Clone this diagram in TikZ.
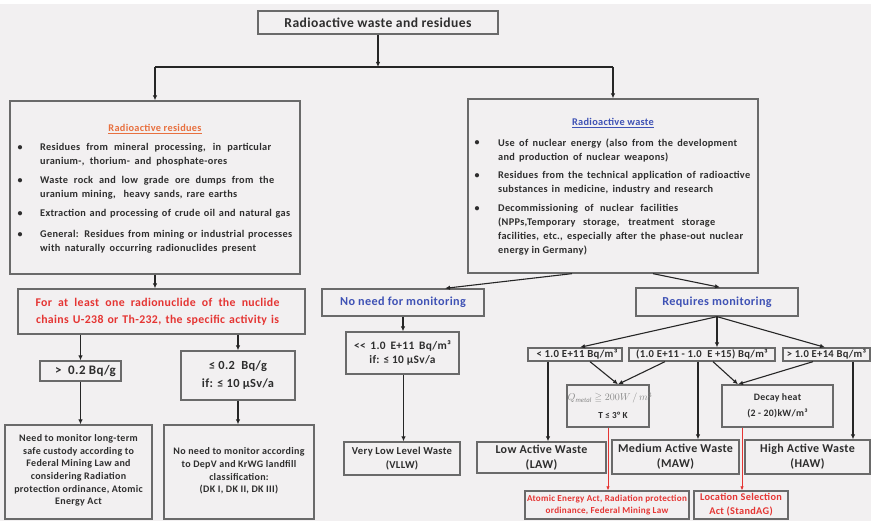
\documentclass[tikz,border=0pt]{standalone}
\usepackage{amssymb}
\usepackage{fontspec}
\setmainfont{Carlito}[LetterSpace=3]
\usetikzlibrary{arrows.meta}

\definecolor{bgcol}{HTML}{F2F0F1}
\definecolor{boxcol}{HTML}{6A6A6A}
\definecolor{linecol}{HTML}{262626}
\definecolor{txtcol}{HTML}{2E2E2E}
\definecolor{orangecol}{HTML}{E8703F}
\definecolor{bluecol}{HTML}{3F52B5}
\definecolor{redcol}{HTML}{E53533}
\definecolor{formulacol}{HTML}{8A8A8A}

\tikzset{
  box/.style={draw=boxcol, line width=1.3pt, fill=bgcol, inner sep=0pt},
  txt/.style={text=txtcol, inner sep=0pt, align=center},
  arr/.style={draw=linecol, line width=1.1pt, -{Latex[length=5pt,width=4.5pt]}},
  plain/.style={draw=linecol, line width=1.1pt},
  redarr/.style={draw=redcol, line width=0.9pt, -{Latex[length=4pt,width=3.5pt]}},
}

% rectangle node given by its corners: name, x1, y1, x2, y2
\newcommand{\rbox}[5]{%
  \node[box, minimum width={(#4)-(#2)}, minimum height={(#5)-(#3)}]
    (#1) at ({((#2)+(#4))/2},{((#3)+(#5))/2}) {};}
\newcommand{\fs}[2]{\fontsize{#1}{#2}\selectfont\bfseries}
% a line of text spread to a given width
\newcommand{\spreadline}[2]{\makebox[#1pt][s]{#2}}

\begin{document}
\begin{tikzpicture}[x=1pt,y=-1pt]
\useasboundingbox (0,0) rectangle (871,521);
\fill[white] (0,0) rectangle (871,521);
\fill[bgcol] (0,4) rectangle (871,521);

% ---------- boxes ----------
\rbox{top}{258}{11}{498}{34}
\rbox{res}{10}{101}{300}{274}
\rbox{waste}{468}{99}{758}{273}
\rbox{crit}{18}{289}{305}{334}
\rbox{gt}{40}{361}{121}{381}
\rbox{le}{181}{351}{295}{400}
\rbox{monyes}{5}{425}{152}{519}
\rbox{monno}{164}{425}{314}{519}
\rbox{nomon}{322}{289}{484}{316}
\rbox{vl}{346}{332}{459}{374}
\rbox{vllw}{344}{442}{460}{475}
\rbox{reqmon}{636}{288}{798}{316}
\rbox{ra}{528}{348}{622}{361}
\rbox{rb}{629}{348}{775}{361}
\rbox{rc}{783}{348}{870}{361}
\rbox{qb}{567}{385}{649}{427}
\rbox{dh}{722}{385}{833}{427}
\rbox{law}{477}{442}{606}{473}
\rbox{maw}{612}{440}{739}{474}
\rbox{haw}{745}{440}{870}{474}
\rbox{acta}{525}{491}{689}{519}
\rbox{actb}{694}{491}{788}{519}

% ---------- texts ----------
\node[txt, font=\fs{13.6}{16}] (top-t) at (top) {Radioactive waste and residues};

% residues box
\node[txt, text=orangecol, font=\fs{10.3}{14}] (res-t) at (155,129) {\underline{Radioactive residues}};
\node[txt] (res-b1) at (20,148) {\fs{10}{14}•};
\node[txt] (res-b2) at (20,181) {\fs{10}{14}•};
\node[txt] (res-b3) at (20,214) {\fs{10}{14}•};
\node[txt] (res-b4) at (20,235) {\fs{10}{14}•};
\node[txt, anchor=west, align=left, font=\fs{10.3}{14}] (res-i1) at (40,155)
  {\spreadline{231}{Residues from mineral processing, in particular}\\\spreadline{187}{uranium-, thorium- and phosphate-ores}};
\node[txt, anchor=west, align=left, font=\fs{10.3}{14}] (res-i2) at (40,188)
  {\spreadline{234}{Waste rock and low grade ore dumps from the}\\\spreadline{197}{uranium mining, \ heavy sands, rare earths}};
\node[txt, anchor=west, align=left, font=\fs{10.3}{14}] (res-i3) at (40,214)
  {\spreadline{250}{Extraction and processing of crude oil and natural gas}};
\node[txt, anchor=west, align=left, font=\fs{10.3}{14}] (res-i4) at (40,242)
  {\spreadline{252}{General: Residues from mining or industrial processes}\\\spreadline{216}{with naturally occurring radionuclides present}};

% waste box
\node[txt, text=bluecol, font=\fs{10.3}{14}] (waste-t) at (613,123) {\underline{Radioactive waste}};
\node[txt] (waste-b1) at (477,143) {\fs{10}{14}•};
\node[txt] (waste-b2) at (477,176) {\fs{10}{14}•};
\node[txt] (waste-b3) at (477,209) {\fs{10}{14}•};
\node[txt, anchor=west, align=left, font=\fs{10.3}{14}] (waste-i1) at (498,150)
  {\spreadline{239}{Use of nuclear energy (also from the development}\\\spreadline{170}{and production of nuclear weapons)}};
\node[txt, anchor=west, align=left, font=\fs{10.3}{14}] (waste-i2) at (498,183)
  {\spreadline{252}{Residues from the technical application of radioactive}\\\spreadline{215}{substances in medicine, industry and research}};
\node[txt, anchor=west, align=left, font=\fs{10.3}{14}] (waste-i3) at (498,230)
  {\spreadline{180}{Decommissioning of nuclear facilities}\\\spreadline{217}{(NPPs,Temporary storage, treatment storage}\\\spreadline{245}{facilities, etc., especially after the phase-out nuclear}\\energy in Germany)};

% left branch
\node[txt, text=redcol, font=\fs{11.8}{17}] (crit-t) at ([xshift=-4]crit.center)
  {\spreadline{244}{For at least one radionuclide of the nuclide}\\\spreadline{243}{chains U-238 or Th-232, the specific activity is}};
\node[txt, font=\fs{13}{14}] (gt-t) at ([xshift=5]gt.center) {> \ 0.2 Bq/g};
\node[txt, font=\fs{12.4}{18}] (le-t) at (le) {≤ 0.2 \ Bq/g\\if: ≤ 10 µSv/a};
\node[txt, font=\fs{10}{12.6}] (monyes-t) at ([yshift=1.5]monyes.center)
  {Need to monitor long-term\\safe custody according to\\Federal Mining Law and\\considering Radiation\\protection ordinance, Atomic\\Energy Act};
\node[txt, font=\fs{10}{12.6}] (monno-t) at ([yshift=1]monno.center)
  {No need to monitor according\\to DepV and KrWG landfill\\classification:\\(DK I, DK II, DK III)};

% middle branch
\node[txt, text=bluecol, font=\fs{12.2}{14}] (nomon-t) at (nomon) {No need for monitoring};
\node[txt, font=\fs{11.4}{14}] (vl-t) at (vl) {\spreadline{97}{<{}< 1.0 E+11 Bq/m³}\\if: ≤ 10 µSv/a};
\node[txt, font=\fs{10.6}{13.5}] (vllw-t) at (vllw) {Very Low Level Waste\\(VLLW)};

% right branch
\node[txt, text=bluecol, font=\fs{12.2}{14}] (reqmon-t) at (reqmon) {Requires monitoring};
\node[txt, font=\fs{10.8}{12}] (ra-t) at ([xshift=2]ra.center) {< 1.0 E+11 Bq/m³};
\node[txt, font=\fs{10.6}{12}] (rb-t) at (rb) {(1.0 E+11 - 1.0 \ E +15) Bq/m³};
\node[txt, font=\fs{10.6}{12}] (rc-t) at (rc) {> 1.0 E+14 Bq/m³};
\node[txt, text=formulacol] (qb-f) at (610,398)
  {\fontsize{9.6}{11}\selectfont $Q_{\mathit{metal}}\geqq 200W\,/\,m^{3}$};
\node[txt, font=\fs{9.2}{12}] (qb-t) at (613,415) {T ≤ 3° K};
\node[txt, font=\fs{9.8}{16}] (dh-t) at (dh) {Decay heat\\(2 - 20)kW/m³};
\node[txt, font=\fs{12}{15}] (law-t) at (law) {Low Active Waste\\(LAW)};
\node[txt, font=\fs{12}{15}] (maw-t) at (maw) {Medium Active Waste\\(MAW)};
\node[txt, font=\fs{12}{15}] (haw-t) at (haw) {High Active Waste\\(HAW)};
\node[txt, text=redcol, font=\fs{9.1}{11.5}] (acta-t) at (acta)
  {Atomic Energy Act, Radiation protection\\ordinance, Federal Mining Law};
\node[txt, text=redcol, font=\fs{10.3}{14}] (actb-t) at (actb)
  {Location Selection\\Act (StandAG)};

% ---------- connectors ----------
\coordinate (jm) at (378,67);
\coordinate (jl) at (155,67);
\coordinate (jr) at (613,67);
\draw[arr] (top.south) -- (jm);
\draw[plain] (jl) -- (jr);
\draw[arr] (jl) -- (res.north);
\draw[arr] (jr) -- (waste.north);

\draw[arr] (res.south) -- (res.south |- crit.north);
\draw[arr] (gt.north |- crit.south) -- (gt.north);
\draw[arr] (le.north |- crit.south) -- (le.north);
\draw[arr] (gt.south) -- (gt.south |- monyes.north);
\draw[arr] (le.south) -- (le.south |- monno.north);

\draw[arr] ([xshift=-41]waste.south) -- ([xshift=42]nomon.north);
\draw[arr] ([xshift=40]waste.south) -- ([xshift=3]reqmon.north);
\draw[arr] (nomon.south) -- (nomon.south |- vl.north);
\draw[arr] ([xshift=1]vl.south) -- ([xshift=1]vl.south |- vllw.north);

\draw[arr] (reqmon.south) -- ([xshift=5]ra.north);
\draw[arr] (reqmon.south) -- (reqmon.south |- rb.north);
\draw[arr] (reqmon.south) -- ([xshift=-1.5]rc.north);

\draw[arr] ([xshift=15]ra.south) -- ([xshift=10]qb.north);
\draw[arr] ([xshift=-37]rb.south) -- ([xshift=10]qb.north);
\draw[arr] ([xshift=11]rb.south) -- ([xshift=-39.5]dh.north);
\draw[arr] ([xshift=-13.5]rc.south) -- ([xshift=-39.5]dh.north);

\draw[arr] ([xshift=-27]ra.south) -- ([xshift=-27]ra.south |- law.north);
\draw[arr] ([xshift=-4]rb.south) -- ([xshift=-4]rb.south |- maw.north);
\draw[arr] ([xshift=26.5]rc.south) -- ([xshift=26.5]rc.south |- haw.north);

\draw[redarr] (qb.south) -- (qb.south |- acta.north);
\draw[redarr] ([xshift=-35.5]dh.south) -- ([xshift=-35.5]dh.south |- actb.north);
\end{tikzpicture}
\end{document}
